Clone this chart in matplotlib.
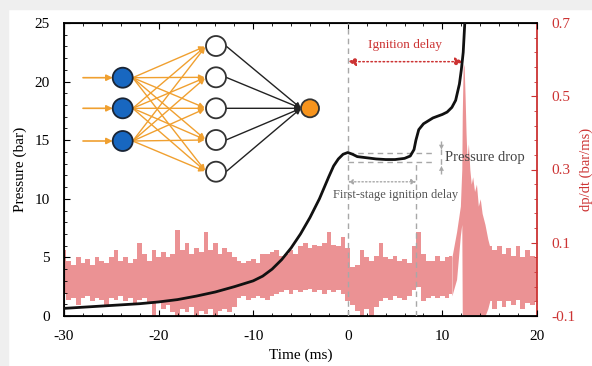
import numpy as np
import matplotlib
matplotlib.use('Agg')
import matplotlib.pyplot as plt
from matplotlib.patches import Circle, Rectangle, FancyArrowPatch
from matplotlib.ticker import MultipleLocator, FixedLocator

plt.rcParams['font.family'] = ['Liberation Serif', 'DejaVu Serif']
plt.rcParams['axes.unicode_minus'] = False

# ---------------- data ----------------
time_p = [-30, -28, -26, -24, -22, -20, -18, -16, -14, -12, -10, -9, -8, -7, -6, -5, -4,
          -3, -2, -1.5, -1, -0.5, 0, 0.5, 1, 2, 3, 4, 5, 6, 6.6, 7, 7.2, 7.5, 8, 9, 10,
          10.5, 11, 11.4, 11.8, 12.0, 12.2, 12.4]
pressure = [0.65, 0.75, 0.85, 0.95, 1.05, 1.2, 1.4, 1.7, 2.05, 2.5, 3.0, 3.4, 4.0, 4.8,
            5.8, 7.0, 8.4, 10.0, 11.9, 12.8, 13.4, 13.8, 13.95, 13.8, 13.6, 13.5, 13.4,
            13.35, 13.35, 13.45, 13.65, 14.2, 15.0, 15.9, 16.4, 16.9, 17.2, 17.4, 17.8,
            18.4, 19.8, 21.0, 22.5, 25.5]

# dp/dt noise envelope, sampled every 0.5 ms from -30 to 11 ms
noise_t = np.arange(-30, 11.01, 0.5)
noise_upper = [0.08, 0.05, 0.04, 0.06, 0.045, 0.055, 0.04, 0.06, 0.05, 0.045,
               0.06, 0.08, 0.05, 0.06, 0.045, 0.055, 0.10, 0.07, 0.05, 0.08,
               0.06, 0.075, 0.06, 0.07, 0.135, 0.08, 0.10, 0.07, 0.085, 0.075,
               0.13, 0.08, 0.10, 0.07, 0.085, 0.075, 0.06,
               0.05, 0.045, 0.05, 0.055, 0.045, 0.07, 0.07, 0.075, 0.08, 0.065,
               0.07, 0.08, 0.07, 0.09, 0.10, 0.085, 0.095, 0.09, 0.10, 0.13,
               0.095, 0.09, 0.117, 0.085,
               0.035, 0.04, 0.08, 0.06, 0.05, 0.065, 0.10, 0.06, 0.055, 0.065,
               0.05, 0.055, 0.045, 0.09, 0.13, 0.07, 0.05, 0.05, 0.065, 0.05,
               0.06, 0.065]
noise_lower = [-0.04, -0.055, -0.05, -0.07, -0.05, -0.045, -0.06, -0.05, -0.055, -0.075,
               -0.05, -0.055, -0.045, -0.06, -0.05, -0.07, -0.055, -0.05, -0.065, -0.10,
               -0.06, -0.08, -0.07, -0.09, -0.10, -0.08, -0.09, -0.075, -0.10, -0.085,
               -0.095, -0.08, -0.10, -0.085, -0.08, -0.09, -0.075,
               -0.05, -0.045, -0.055, -0.05, -0.045, -0.05, -0.055, -0.045, -0.04, -0.035,
               -0.03, -0.04, -0.03, -0.035, -0.03, -0.025, -0.035, -0.03, -0.04, -0.03,
               -0.035, -0.03, -0.04, -0.06,
               -0.07, -0.085, -0.10, -0.08, -0.10, -0.075, -0.06, -0.05, -0.055, -0.045,
               -0.05, -0.055, -0.045, -0.03, -0.02, -0.06, -0.05, -0.045, -0.05, -0.045,
               -0.05, -0.04]

# ignition spike
spike_t = [11.0, 11.5, 11.9, 12.05, 12.1, 12.2, 12.3, 12.4, 12.5, 12.6, 12.75, 12.9,
           13.05, 13.2, 13.4, 13.6, 13.8, 14.0, 14.2, 14.5, 14.8, 15.0]
spike_upper = [0.06, 0.13, 0.20, 0.30, 0.45, 0.59, 0.58, 0.50, 0.40, 0.33, 0.37, 0.30,
               0.26, 0.28, 0.24, 0.26, 0.20, 0.22, 0.18, 0.15, 0.11, 0.09]
spike_lower = [-0.045, 0.0, 0.12, 0.15, -0.10, -0.10, -0.10, -0.10, -0.10, -0.10, -0.10,
               -0.10, -0.10, -0.10, -0.10, -0.10, -0.10, -0.10, -0.10, -0.10, -0.08, -0.06]

# tail after ignition, every 0.5 ms from 15 to 20 ms
tail_t = np.arange(15, 20.01, 0.5)
tail_upper = [0.09, 0.08, 0.09, 0.07, 0.085, 0.065, 0.09, 0.06, 0.08, 0.065, 0.06]
tail_lower = [-0.06, -0.08, -0.06, -0.075, -0.06, -0.07, -0.055, -0.08, -0.065, -0.07, -0.06]

x_ticks = [-30, -20, -10, 0, 10, 20]
p_ticks = [0, 5, 10, 15, 20, 25]
r_ticks = [-0.1, 0.1, 0.3, 0.5, 0.7]

t_first = 0.0
t_second = 7.25
t_ign = 12.2

# ---------------- figure ----------------
RED = '#cc3333'
PINK = '#eb9294'
GRAY = '#a8a8a8'

fig = plt.figure(figsize=(5.92, 3.66), dpi=100)
fig.patches.append(Rectangle((0, 1 - 9 / 366), 1, 9 / 366, transform=fig.transFigure,
                             color='#efefef', zorder=-10))
fig.patches.append(Rectangle((0, 0), 8 / 592, 1, transform=fig.transFigure,
                             color='#efefef', zorder=-10))

ax1 = fig.add_axes([64 / 592, 50 / 366, 473 / 592, 293 / 366])
ax2 = ax1.twinx()
ax1.set_zorder(ax2.get_zorder() + 1)
ax1.patch.set_visible(False)

# dp/dt
ax2.fill_between(noise_t, noise_lower, noise_upper, step='mid', color=PINK, lw=0)
ax2.fill_between(tail_t, tail_lower, tail_upper, step='mid', color=PINK, lw=0)
ax2.fill_between(spike_t, spike_lower, spike_upper, color=PINK, lw=0)
ax2.set_ylim(-0.1, 0.7)
ax2.set_yticks(r_ticks)
ax2.set_yticklabels(['%.1f' % v for v in r_ticks])
ax2.yaxis.set_minor_locator(FixedLocator(np.arange(-0.1, 0.701, 0.04)))
ax2.tick_params(axis='y', which='both', direction='in', colors=RED, labelsize=11, pad=10)
ax2.tick_params(axis='y', which='major', length=4)
ax2.tick_params(axis='y', which='minor', length=2.5)
ax2.spines['right'].set_color(RED)
ax2.spines['right'].set_linewidth(1.3)
ax2.set_ylabel('dp/dt (bar/ms)', color=RED, fontsize=10.5, labelpad=3)

# pressure
ax1.plot(time_p, pressure, color='#111111', lw=2, zorder=5, clip_on=True)
ax1.set_xlim(-30, 20)
ax1.set_ylim(0, 25)
ax1.set_xticks(x_ticks)
ax1.set_xticklabels([str(v) for v in x_ticks])
ax1.set_yticks(p_ticks)
ax1.set_yticklabels([str(v) for v in p_ticks])
ax1.xaxis.set_minor_locator(MultipleLocator(2))
ax1.yaxis.set_minor_locator(MultipleLocator(1))
ax1.tick_params(which='both', direction='in', top=True, labelsize=11, pad=10)
ax1.tick_params(which='major', length=4)
ax1.tick_params(which='minor', length=2.5)
for s in ['left', 'bottom', 'top']:
    ax1.spines[s].set_linewidth(1.3)
ax1.spines['right'].set_visible(False)
ax1.set_xlabel('Time (ms)', fontsize=11, labelpad=4)
ax1.set_ylabel('Pressure (bar)', fontsize=11, labelpad=6)

# annotations
dash = (0, (4, 3))
ax1.plot([t_first, t_first], [0, 25], color=GRAY, lw=1, ls=dash, zorder=3)
ax1.plot([t_second, t_second], [0, 13.2], color=GRAY, lw=1, ls=dash, zorder=3)
ax1.plot([t_first, 9.0], [13.9, 13.9], color=GRAY, lw=1, ls=dash, zorder=3)
ax1.plot([t_first, 9.0], [13.1, 13.1], color=GRAY, lw=1, ls=dash, zorder=3)
ax1.plot([9.9, 9.9], [12.1, 14.9], color=GRAY, lw=1, ls=dash, zorder=3)
ax1.annotate('', xy=(9.9, 13.95), xytext=(9.9, 15.0),
             arrowprops=dict(arrowstyle='-|>', color=GRAY, lw=0, mutation_scale=9))
ax1.annotate('', xy=(9.9, 13.05), xytext=(9.9, 12.0),
             arrowprops=dict(arrowstyle='-|>', color=GRAY, lw=0, mutation_scale=9))
ax1.text(10.3, 13.55, 'Pressure drop', fontsize=10.5, color='#444444', ha='left', va='center')

ax1.annotate('', xy=(t_first, 11.45), xytext=(t_second, 11.45),
             arrowprops=dict(arrowstyle='<|-|>', color=GRAY, lw=1, ls=':',
                             mutation_scale=7, shrinkA=0, shrinkB=0))
ax1.text(5.0, 10.3, 'First-stage ignition delay', fontsize=9, color='#555555',
         ha='center', va='center')

ax1.annotate('', xy=(t_first, 21.7), xytext=(t_ign, 21.7),
             arrowprops=dict(arrowstyle='<|-|>', color=RED, lw=1.1, ls=':',
                             mutation_scale=12, shrinkA=0, shrinkB=0))
ax1.text(6.05, 23.1, 'Ignition delay', fontsize=9.5, color=RED, ha='center', va='center')

# ---------------- neural network sketch (figure pixels) ----------------
nn = fig.add_axes([0, 0, 1, 1])
nn.set_xlim(0, 592)
nn.set_ylim(366, 0)
nn.axis('off')
nn.set_zorder(10)

in_x, in_y = 122.7, [77.7, 108.3, 141.0]
hid_x, hid_y = 216.0, [46.0, 77.3, 108.3, 140.0, 171.7]
out_x, out_y = 310.0, 108.3
r = 10.0
ORANGE_LINE = '#f0a030'

for y in in_y:
    nn.add_patch(FancyArrowPatch((83, y), (in_x - r, y), arrowstyle='-|>', color=ORANGE_LINE,
                                 lw=1.2, mutation_scale=9, shrinkA=0, shrinkB=0))
for y0 in in_y:
    for y1 in hid_y:
        nn.add_patch(FancyArrowPatch((in_x + r, y0), (hid_x - r, y1), arrowstyle='-|>',
                                     color=ORANGE_LINE, lw=1.0, mutation_scale=8,
                                     shrinkA=0, shrinkB=1))
for y1 in hid_y:
    nn.add_patch(FancyArrowPatch((hid_x + r, y1), (out_x - 9, out_y), arrowstyle='-|>',
                                 color='#222222', lw=1.0, mutation_scale=8,
                                 shrinkA=0, shrinkB=0))
for y in in_y:
    nn.add_patch(Circle((in_x, y), r, facecolor='#1867c0', edgecolor='#1a2535', lw=1.3))
for y in hid_y:
    nn.add_patch(Circle((hid_x, y), r, facecolor='white', edgecolor='#333333', lw=1.3))
nn.add_patch(Circle((out_x, out_y), 9, facecolor='#f7941d', edgecolor='#333333', lw=1.3))

fig.savefig('out.png', dpi=100)
